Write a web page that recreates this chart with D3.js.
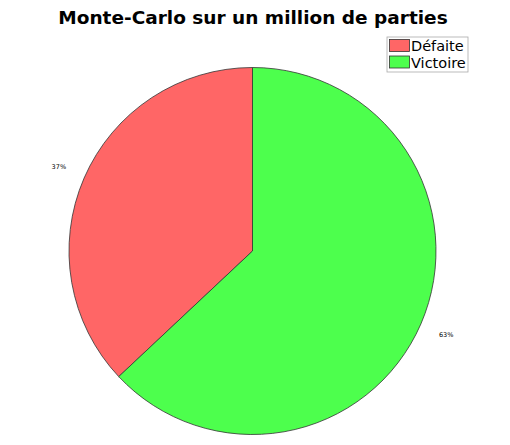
<!DOCTYPE html><html><head><meta charset="utf-8"><script src="https://cdn.jsdelivr.net/npm/d3@7"></script>
<style>body{margin:0;background:#fff}</style></head><body><script>
const categories=["Défaite","Victoire"];
const values=[37,63];
const labels=["37%","63%"];
const colors=["#ff6666","#4dff4d"];
const W=510,H=445,cx=252.5,cy=251,r=183.5;
const svg=d3.select("body").append("svg").attr("width",W).attr("height",H).style("font-family","DejaVu Sans");
svg.append("text").attr("x",253).attr("y",24).attr("text-anchor","middle").attr("font-size",18.5).attr("font-weight","bold").text("Monte-Carlo sur un million de parties");
const pie=d3.pie().sort(null).startAngle(0).endAngle(-2*Math.PI);
const arcs=pie(values);
const arc=d3.arc().innerRadius(0).outerRadius(r);
const g=svg.append("g").attr("transform",`translate(${cx},${cy})`);
g.selectAll("path").data(arcs).join("path").attr("d",arc).attr("fill",(d,i)=>colors[i]).attr("stroke","#333").attr("stroke-width",0.8);
const la=d3.arc().innerRadius(r*1.15).outerRadius(r*1.15);
g.selectAll("text").data(arcs).join("text").attr("transform",d=>`translate(${la.centroid(d)})`).attr("text-anchor","middle").attr("dy","0.35em").attr("font-size",6.5).text((d,i)=>labels[i]);
const lg=svg.append("g").attr("transform","translate(387,37)");
lg.append("rect").attr("width",81).attr("height",35).attr("fill","#fff").attr("stroke","#aaa").attr("stroke-width",0.8);
categories.forEach((c,i)=>{
 lg.append("rect").attr("x",2.5).attr("y",2.5+i*16.5).attr("width",20).attr("height",12).attr("fill",colors[i]).attr("stroke","#333").attr("stroke-width",0.8);
 lg.append("text").attr("x",24).attr("y",14+i*16.5).attr("font-size",14.5).text(c);
});
</script></body></html>
